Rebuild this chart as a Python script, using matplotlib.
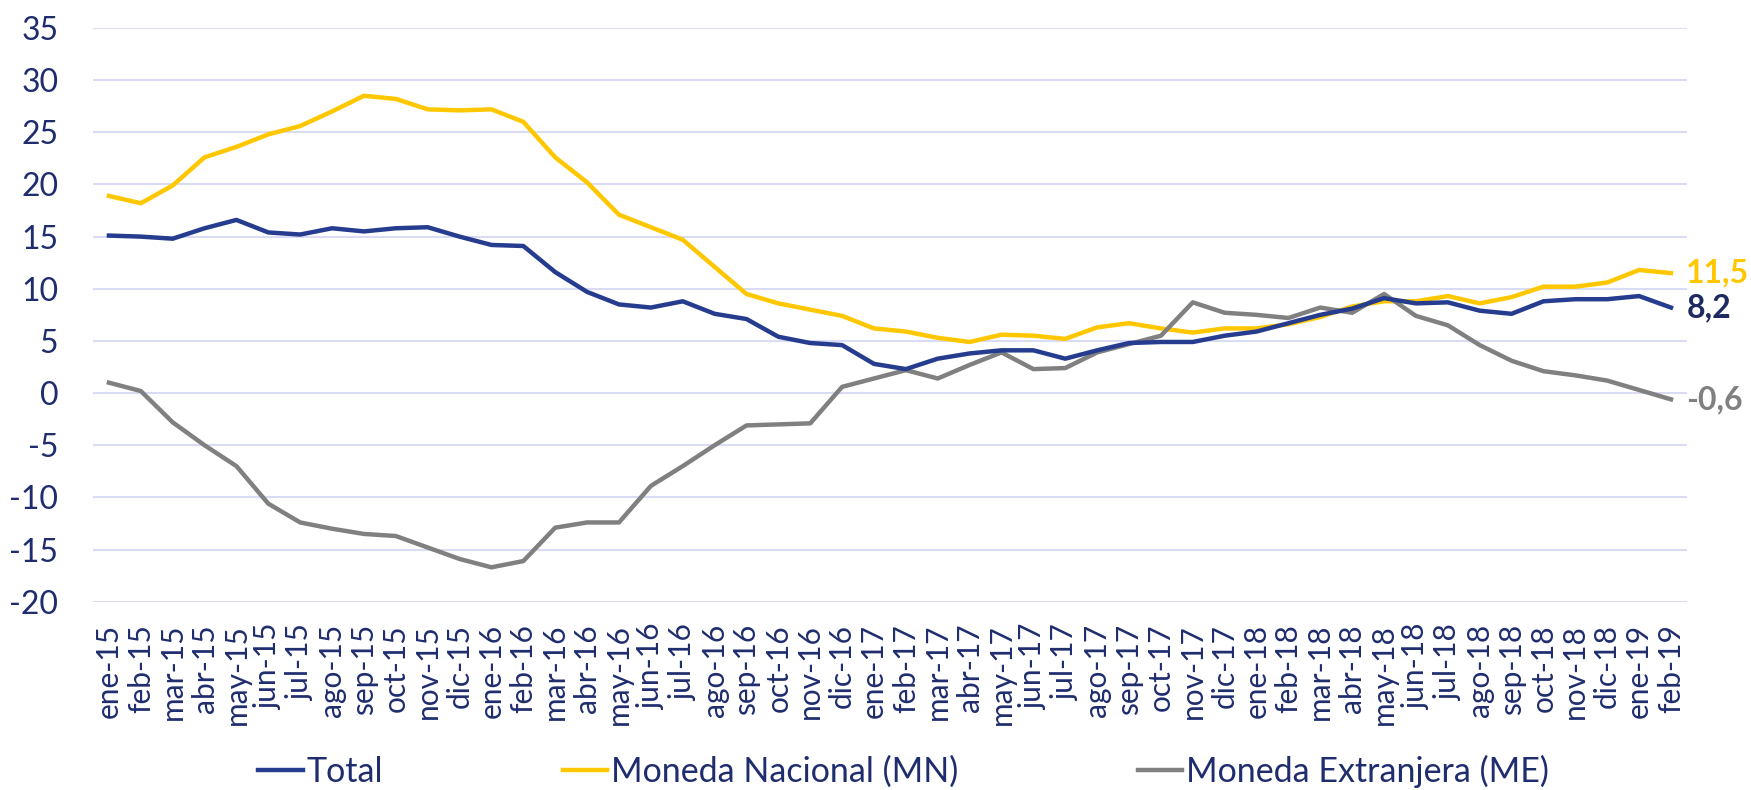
import matplotlib
matplotlib.use("Agg")
import matplotlib.pyplot as plt
import numpy as np

months = ["ene-15","feb-15","mar-15","abr-15","may-15","jun-15","jul-15","ago-15","sep-15","oct-15","nov-15","dic-15",
          "ene-16","feb-16","mar-16","abr-16","may-16","jun-16","jul-16","ago-16","sep-16","oct-16","nov-16","dic-16",
          "ene-17","feb-17","mar-17","abr-17","may-17","jun-17","jul-17","ago-17","sep-17","oct-17","nov-17","dic-17",
          "ene-18","feb-18","mar-18","abr-18","may-18","jun-18","jul-18","ago-18","sep-18","oct-18","nov-18","dic-18",
          "ene-19","feb-19"]

total = [15.1, 15.0, 14.8, 15.8, 16.6, 15.4, 15.2, 15.8, 15.5, 15.8,
         15.9, 15.0, 14.2, 14.1, 11.6, 9.7, 8.5, 8.2, 8.8, 7.6,
         7.1, 5.4, 4.8, 4.6, 2.8, 2.3, 3.3, 3.8, 4.1, 4.1,
         3.3, 4.1, 4.8, 4.9, 4.9, 5.5, 5.9, 6.7, 7.5, 8.1,
         9.1, 8.6, 8.7, 7.9, 7.6, 8.8, 9.0, 9.0, 9.3, 8.2]

mn = [18.9, 18.2, 19.9, 22.6, 23.6, 24.8, 25.6, 27.0, 28.5, 28.2,
      27.2, 27.1, 27.2, 26.0, 22.6, 20.2, 17.1, 15.9, 14.7, 12.1,
      9.5, 8.6, 8.0, 7.4, 6.2, 5.9, 5.3, 4.9, 5.6, 5.5,
      5.2, 6.3, 6.7, 6.2, 5.8, 6.2, 6.2, 6.6, 7.3, 8.3,
      8.8, 8.8, 9.3, 8.6, 9.2, 10.2, 10.2, 10.6, 11.8, 11.5]

me = [1.0, 0.2, -2.8, -5.0, -7.0, -10.6, -12.4, -13.0, -13.5, -13.7,
      -14.8, -15.9, -16.7, -16.1, -12.9, -12.4, -12.4, -8.9, -7.0, -5.0,
      -3.1, -3.0, -2.9, 0.6, 1.4, 2.2, 1.4, 2.7, 3.9, 2.3,
      2.4, 3.9, 4.7, 5.5, 8.7, 7.7, 7.5, 7.2, 8.2, 7.7,
      9.5, 7.4, 6.5, 4.6, 3.1, 2.1, 1.7, 1.2, 0.3, -0.6]

series_names = ["Total", "Moneda Nacional (MN)", "Moneda Extranjera (ME)"]
yticks = [-20, -15, -10, -5, 0, 5, 10, 15, 20, 25, 30, 35]

C_TOTAL = "#263C8E"
C_MN = "#FFC700"
C_ME = "#808080"
C_TEXT = "#1F2D6E"
C_LBL_TOTAL = "#1F2A60"
C_GRID = "#D9DCF4"

plt.rcParams['font.family'] = ['Lato', 'DejaVu Sans']

fig = plt.figure(figsize=(17.51, 7.90), dpi=100)
ax = fig.add_axes([0.0531, 0.2383, 0.9103, 0.7263])

x = np.arange(len(months))
lw = 3.2
ax.plot(x, total, color=C_TOTAL, lw=lw, label=series_names[0], solid_joinstyle='round', zorder=3)
ax.plot(x, mn, color=C_MN, lw=lw, label=series_names[1], solid_joinstyle='round', zorder=2)
ax.plot(x, me, color=C_ME, lw=lw, label=series_names[2], solid_joinstyle='round', zorder=2)

ax.set_xlim(-0.5, len(months) - 0.5)
ax.set_ylim(-20, 35)
ax.set_yticks(yticks)
ax.set_yticklabels([str(v) for v in yticks])
ax.set_xticks(x)
ax.set_xticklabels(months, rotation=90)
ax.tick_params(axis='y', length=0, pad=25, labelsize=23, labelcolor=C_TEXT)
ax.tick_params(axis='x', length=0, pad=16, labelsize=21.5, labelcolor=C_TEXT)
ax.grid(axis='y', color=C_GRID, lw=1.5)
ax.set_axisbelow(True)
for s in ax.spines.values():
    s.set_visible(False)

def fmt(v):
    return f"{v:.1f}".replace(".", ",")

for vals, col in [(mn, C_MN), (total, C_LBL_TOTAL), (me, C_ME)]:
    ax.annotate(fmt(vals[-1]), xy=(x[-1], vals[-1]), xytext=(11, 0),
                textcoords='offset points', va='center', ha='left',
                fontsize=23, fontweight='bold', color=col, annotation_clip=False)

leg = fig.legend(loc='center', bbox_to_anchor=(0.516, 0.024), ncol=3, frameon=False,
                 fontsize=24.5, handlelength=1.3, handletextpad=0.1, columnspacing=5.3,
                 labelcolor=C_TEXT)

fig.savefig("out.png", dpi=100)
